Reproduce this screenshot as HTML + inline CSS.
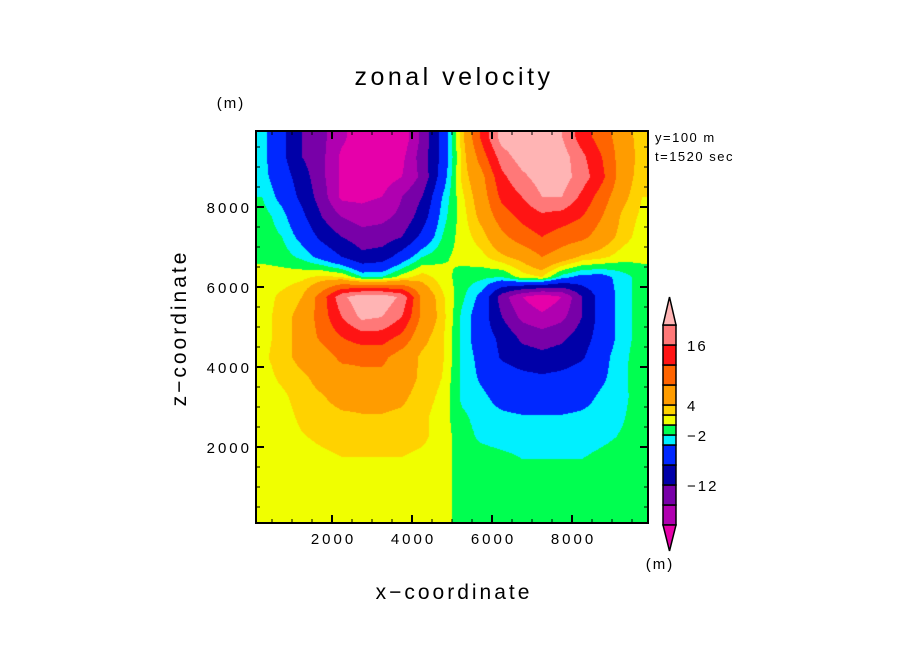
<!DOCTYPE html>
<html><head><meta charset="utf-8"><style>
html,body{margin:0;padding:0;background:#fff;}
#wrap{position:relative;width:904px;height:654px;overflow:hidden;font-family:"Liberation Sans",sans-serif;}
canvas{position:absolute;left:256px;top:131px;}
svg{position:absolute;left:0;top:0;}
</style></head><body>
<div id="wrap">
<canvas id="cv" width="392" height="392"></canvas>
<svg id="sv" width="904" height="654"></svg>
</div>
<script>
// contour levels and fill colours
const levels = [-20,-16,-12,-8,-4,-2,0,2,4,8,12,16,20];
const colors = ["#e600aa","#b000b0","#7800a8","#0000a8","#0028ff","#00f0ff","#00ff50","#f0ff00","#ffd200","#ff9c00","#ff6400","#ff1414","#ff7878","#ffb4b4"];
const colorbarLabels = ["16","4","-2","-12"];
const colorbarLabelLevels = [16,4,-2,-12];
const xTicks = [2000,4000,6000,8000];
const yTicks = [2000,4000,6000,8000];
// grid: columns x = 250..9750 step 500, rows z = 9750 (top) .. 250 (bottom)
const gridX = [250,750,1250,1750,2250,2750,3250,3750,4250,4750,5250,5750,6250,6750,7250,7750,8250,8750,9250,9750];
const gridZ = [9750,9250,8750,8250,7750,7250,6750,6250,5750,5250,4750,4250,3750,3250,2750,2250,1750,1250,750,250];
const uField = [
[-3,-7,-12,-15,-19,-23,-24,-23,-15,-7, 3,13,22,23,23,20,14,10,6,2.5],
[-3,-7,-12,-15,-21,-23,-23,-21,-14,-7, 2.5,10,18,22,23,22,17,12,6,3],
[-3,-6,-10,-15,-21,-23,-22,-20,-15,-6, 2.5,7,15,19,22,22,18,13,6,2.5],
[-2,-5,-9,-14,-21,-21,-20,-16,-12,-4, 1.5,6,13,16,20,20,15,10,5,2],
[-1,-3,-7,-12,-16,-18,-17,-15,-10,-3, 1,5,10,13,15,14,12,8,3.5,1.5],
[-1,-2,-5,-9,-12,-14,-14,-12,-7,-2, 1,3,7,10,12,10,9,6,3,1],
[-0.5,-1,-2.5,-5,-8,-11,-10,-6,-2,-0.5, 0.8,1.5,3.5,5,8,6,3.5,2.5,1,0.5],
[1,1,1.5,2.5,2,-2,-2,1,3,1, -1,-1.5,-2,1,2,-3,-5,-5,-3,-1],
[1,2.5,4,10,19,23,23,19,7,2.5, -1.5,-5,-14,-20,-23,-20,-12,-6,-3,-1],
[1,3,5,10,16,21,20,16,7,3, -2.5,-6,-12,-17,-19,-17,-12,-6,-3,-1],
[1,3,5,9,12,14,14,11,5,2.5, -2.5,-6,-9,-13,-14,-13,-10,-6,-3,-1],
[1.5,3,5,6,9,9,9,6,3.5,2.5, -2.5,-5,-8.5,-10,-11,-10,-8.5,-5,-2.5,-1],
[1,2.5,3.5,5,6,7,7,5.5,3.5,2, -2.5,-4.5,-6,-7,-7.5,-7,-6,-4.5,-2.5,-0.8],
[1,1.5,3,3.8,5,5,5,4.5,3,1.5, -2.5,-3.5,-5,-5.5,-5.5,-5.5,-5,-3.5,-2.5,-1],
[1,1,2.5,3,3.5,3.8,3.8,3.5,2.5,1, -1.5,-3,-3.5,-3.8,-3.8,-3.8,-3.5,-3,-2.2,-1],
[1,1,1.8,2.5,3,3,3,3,2.5,1, -1,-2.5,-3,-3,-3,-3,-3,-2.5,-1.8,-1],
[1,1,1,1.5,2,2,2,2,1.5,1, -1,-1,-1.5,-2.1,-2.1,-2.1,-2.1,-1.5,-1,-1],
[1,1,1,1,1,1,1,1,1,1, -1,-1,-1,-1,-1,-1,-1,-1,-1,-1],
[1,1,1,1,1,1,1,1,1,1, -1,-1,-1,-1,-1,-1,-1,-1,-1,-1],
[1,1,1,1,1,1,1,1,1,1, -1,-1,-1,-1,-1,-1,-1,-1,-1,-1]
];
// axis functions
const X0=256, Y0=131, W=392, H=392, DMIN=100, DMAX=9900;
function sx(v){return X0+(v-DMIN)/(DMAX-DMIN)*W;}
function sy(v){return Y0+(DMAX-v)/(DMAX-DMIN)*H;}
function hexRGB(h){return [parseInt(h.substr(1,2),16),parseInt(h.substr(3,2),16),parseInt(h.substr(5,2),16)];}
function bandIndex(v){let i=0;while(i<levels.length&&v>=levels[i])i++;return i;}

// draw contour field
const cv=document.getElementById('cv');const ctx=cv.getContext('2d');
const img=ctx.createImageData(W,H);const rgb=colors.map(hexRGB);
const nx=gridX.length, nz=gridZ.length;
const dx=gridX[1]-gridX[0], dz=gridZ[0]-gridZ[1];
for(let py=0;py<H;py++){
  const zv=DMAX-(py+0.5)/H*(DMAX-DMIN);
  let gj=(gridZ[0]-zv)/dz; gj=Math.max(0,Math.min(nz-1,gj));
  const j0=Math.min(nz-2,Math.floor(gj)), fj=gj-j0;
  for(let px=0;px<W;px++){
    const xv=DMIN+(px+0.5)/W*(DMAX-DMIN);
    let gi=(xv-gridX[0])/dx; gi=Math.max(0,Math.min(nx-1,gi));
    const i0=Math.min(nx-2,Math.floor(gi)), fi=gi-i0;
    const v=(uField[j0][i0]*(1-fi)+uField[j0][i0+1]*fi)*(1-fj)+(uField[j0+1][i0]*(1-fi)+uField[j0+1][i0+1]*fi)*fj;
    const c=rgb[bandIndex(v)];const k=(py*W+px)*4;
    img.data[k]=c[0];img.data[k+1]=c[1];img.data[k+2]=c[2];img.data[k+3]=255;
  }
}
ctx.putImageData(img,0,0);

const NS='http://www.w3.org/2000/svg';const sv=document.getElementById('sv');
function mk(tag,attrs,parent){const e=document.createElementNS(NS,tag);for(const k in attrs)e.setAttribute(k,attrs[k]);(parent||sv).appendChild(e);return e;}
function txt(s,x,y,size,anchor,name,ls){const t=mk('text',{x:x,y:y,'font-size':size,'text-anchor':anchor||'start','font-family':'Liberation Sans, sans-serif',fill:'#000','letter-spacing':ls||0});t.textContent=s;


return t;}

// frame
const fr=mk('rect',{x:X0,y:Y0,width:W,height:H,fill:'none',stroke:'#000','stroke-width':2});


// ticks
for(let v=500;v<DMAX;v+=500){
  const major=(v%2000===0);const L=major?8:4;const w=major?2:1;
  const a=sx(v), b=sy(v);
  const t1=mk('line',{x1:a,y1:Y0+H,x2:a,y2:Y0+H-L,stroke:'#000','stroke-width':w});
  
  
  const t2=mk('line',{x1:a,y1:Y0,x2:a,y2:Y0+L,stroke:'#000','stroke-width':w});
  
  
  const t3=mk('line',{x1:X0,y1:b,x2:X0+L,y2:b,stroke:'#000','stroke-width':w});
  
  
  const t4=mk('line',{x1:X0+W,y1:b,x2:X0+W-L,y2:b,stroke:'#000','stroke-width':w});
  
  
}
xTicks.forEach(v=>txt(String(v),sx(v)+1.5,544,15,'middle','x-tick-label',3));
yTicks.forEach(v=>txt(String(v),252,sy(v)+6,15,'end','y-tick-label',3));

txt('zonal velocity',454,85,25,'middle','chart-title',3.5);
txt('(m)',231,108,15,'middle','y-unit-label',2);
txt('x\u2212coordinate',454,599,21,'middle','x-axis-title',3);
const yt=txt('z\u2212coordinate',0,0,21,'middle','y-axis-title',3);
yt.setAttribute('transform','translate(186,328) rotate(-90)');
txt('y=100 m',655,142,13,'start','y-position-note',1.5);
txt('t=1520 sec',655,161,13,'start','time-note',1.5);

// colorbar
const CBX=663, CBW=13;
function cy(v){return 425-(v-0)*5;} // level 0 at y=425
for(let i=1;i<levels.length;i++){
  const r=mk('rect',{x:CBX,y:cy(levels[i]),width:CBW,height:cy(levels[i-1])-cy(levels[i]),fill:colors[i],stroke:'#000','stroke-width':1.5});
  
  
}
const tTop=mk('polygon',{points:`${CBX},${cy(levels[levels.length-1])} ${CBX+CBW},${cy(levels[levels.length-1])} ${CBX+CBW/2},${cy(levels[levels.length-1])-28}`,fill:colors[colors.length-1],stroke:'#000','stroke-width':1.5});


const tBot=mk('polygon',{points:`${CBX},${cy(levels[0])} ${CBX+CBW},${cy(levels[0])} ${CBX+CBW/2},${cy(levels[0])+26}`,fill:colors[0],stroke:'#000','stroke-width':1.5});


colorbarLabels.forEach((s,i)=>txt(s.replace('-','\u2212'),687,cy(colorbarLabelLevels[i])+6,15,'start','colorbar-label',2));
txt('(m)',660,569,15,'middle','colorbar-unit-label',2);
</script>
</body></html>
